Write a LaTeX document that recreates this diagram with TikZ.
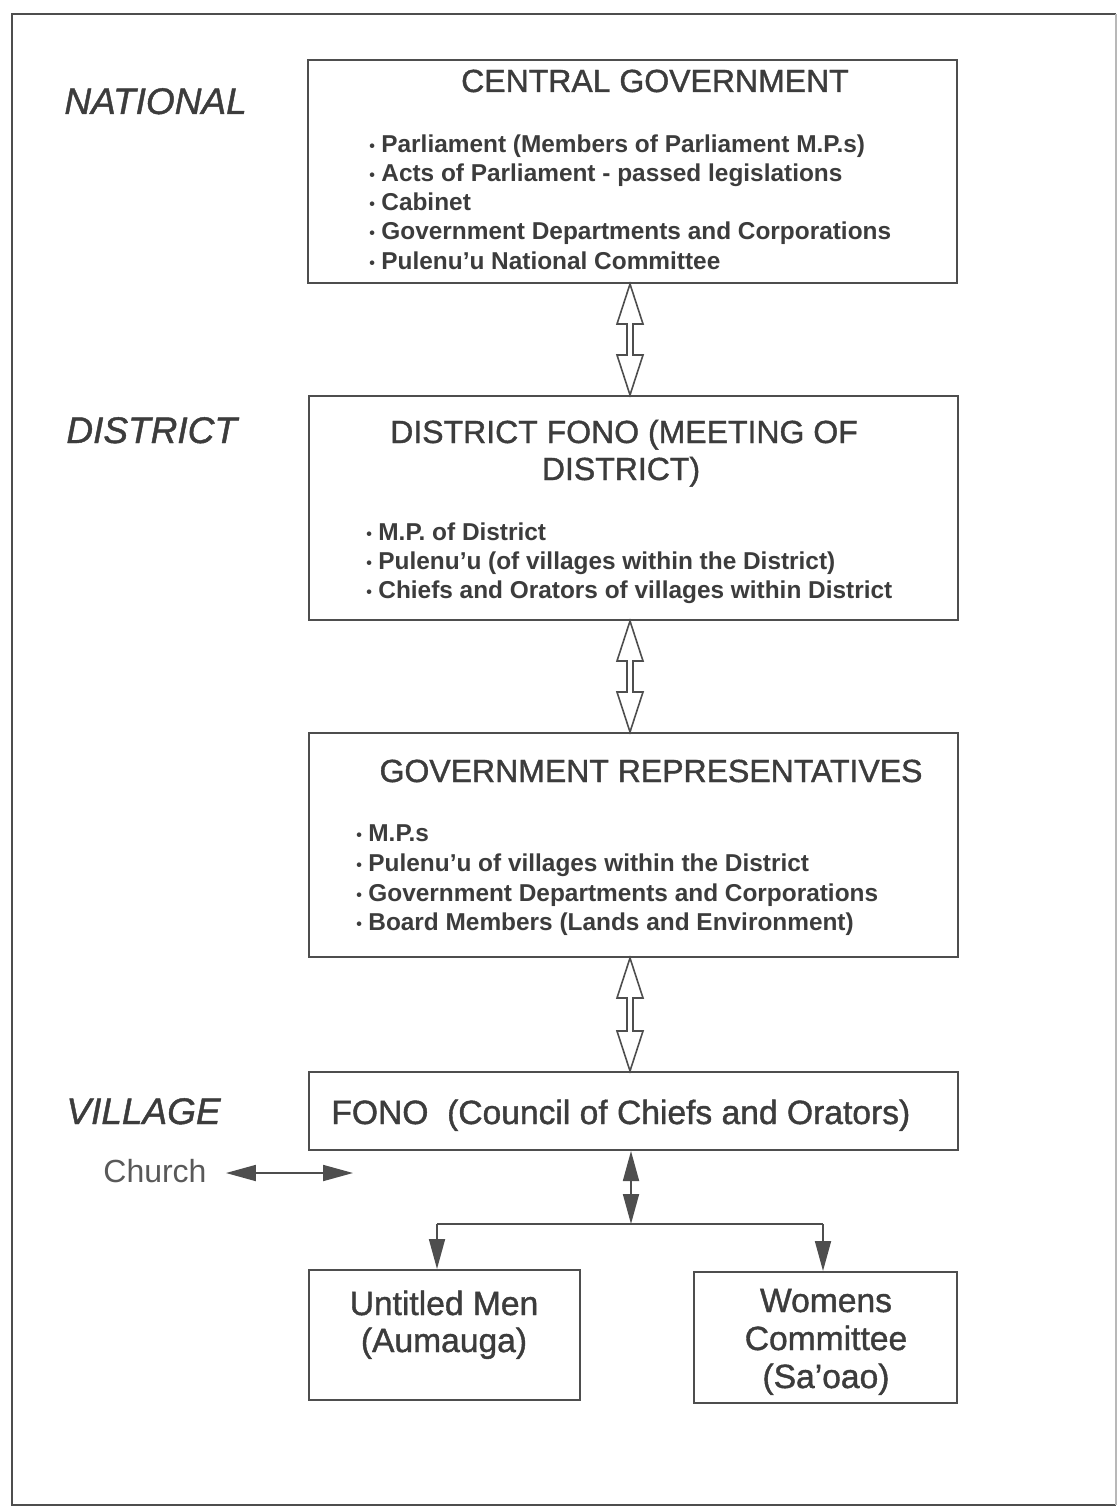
\documentclass[tikz,border=0pt]{standalone}
\usepackage{fontspec}
\setmainfont{Liberation Sans}
\newfontfamily\medsans[FakeBold=1.2,Ligatures=TeX]{Liberation Sans}
\usetikzlibrary{arrows.meta,calc}
\definecolor{ink}{HTML}{3C3C3C}
\definecolor{rule}{HTML}{4E4E4E}
\definecolor{faint}{HTML}{B8B8B8}
\newcommand\itembul{\makebox[6pt][l]{\fontsize{8}{8}\selectfont\raisebox{0.5pt}{•}}}
\tikzset{
  box/.style={draw=rule, line width=1pt, fill=white, inner sep=0pt},
  head/.style={text=ink, font=\medsans\fontsize{16}{19}\selectfont, anchor=base, inner sep=0pt},
  subhead/.style={text=ink, font=\medsans\fontsize{16.8}{20}\selectfont, anchor=base, inner sep=0pt},
  entry/.style={text=ink, font=\bfseries\fontsize{12.2}{14}\selectfont, anchor=base west, inner sep=0pt},
  level/.style={text=ink, font=\medsans\itshape\fontsize{18.5}{22}\selectfont, anchor=base west, inner sep=0pt},
  plain/.style={text=ink!85, font=\fontsize{16}{19}\selectfont, anchor=base west, inner sep=0pt},
  openarr/.style={draw=rule, line width=0.8pt, fill=white, line join=miter},
  solidarr/.style={draw=rule, line width=0.9pt},
  tip/.tip={Triangle[length=15pt,width=8pt]},
}
\begin{document}
\begin{tikzpicture}[x=0.5pt, y=-0.5pt]
\useasboundingbox (0,0) rectangle (1118,1508);
% outer frame
\draw[rule, line width=1.2pt] (1116,14) -- (12,14) -- (12,1505) -- (1116,1505);
\draw[faint, line width=0.8pt] (1116,14) -- (1116,1505);

% level labels
\node[level] (lnat) at (64,114) {NATIONAL};
\node[level] (ldis) at (66,443) {DISTRICT};
\node[level] (lvil) at (66,1124) {VILLAGE};

% boxes
\node[box, minimum width=324.5pt, minimum height=111.5pt] (cg) at (632.5,171.5) {};
\node[box, minimum width=324.5pt, minimum height=112pt] (df) at (633.5,508) {};
\node[box, minimum width=324.5pt, minimum height=112pt] (gr) at (633.5,845) {};
\node[box, minimum width=324.5pt, minimum height=39pt] (fono) at (633.5,1111) {};
\node[box, minimum width=135.5pt, minimum height=65pt] (um) at (444.5,1335) {};
\node[box, minimum width=131.5pt, minimum height=65.5pt] (wc) at (825.5,1337.5) {};

% central government
\node[head] (cgh) at (655,92) {CENTRAL GOVERNMENT};
\node[entry] (cg1) at (369,153) {\itembul Parliament (Members of Parliament M.P.s)};
\node[entry] (cg2) at (369,182) {\itembul Acts of Parliament - passed legislations};
\node[entry] (cg3) at (369,211) {\itembul Cabinet};
\node[entry] (cg4) at (369,240) {\itembul Government Departments and Corporations};
\node[entry] (cg5) at (369,270) {\itembul Pulenu'u National Committee};

% district fono
\node[head] (dfh1) at (624,443) {DISTRICT FONO (MEETING OF};
\node[head] (dfh2) at (621,480) {DISTRICT)};
\node[entry] (df1) at (366,540) {\itembul M.P. of District};
\node[entry] (df2) at (366,569) {\itembul Pulenu'u (of villages within the District)};
\node[entry] (df3) at (366,598) {\itembul Chiefs and Orators of villages within District};

% government representatives
\node[head] (grh) at (651,782) {GOVERNMENT REPRESENTATIVES};
\node[entry] (gr1) at (356,841) {\itembul M.P.s};
\node[entry] (gr2) at (356,871) {\itembul Pulenu'u of villages within the District};
\node[entry] (gr3) at (356,901) {\itembul Government Departments and Corporations};
\node[entry] (gr4) at (356,930) {\itembul Board Members (Lands and Environment)};

% village level
\node[subhead, anchor=base west] (fonot) at (331,1124) {FONO\ \ (Council of Chiefs and Orators)};
\node[subhead] (um1) at (444,1315) {Untitled Men};
\node[subhead] (um2) at (444,1352) {(Aumauga)};
\node[subhead] (wc1) at (826,1312) {Womens};
\node[subhead] (wc2) at (826,1350) {Committee};
\node[subhead] (wc3) at (826,1388) {(Sa'oao)};
\node[plain] (church) at (103,1182) {Church};

% open two-way arrows between the upper levels
\coordinate (ax) at (630,0);
\foreach \a/\b in {cg/df, df/gr, gr/fono}{
  \draw[openarr] let \p1=(\a.south -| ax), \p2=(\b.north -| ax) in
    (\x1,\y1) -- (\x1+6.5pt,\y1-20pt) -- (\x1+1.5pt,\y1-20pt) -- (\x1+1.5pt,\y2+20pt)
    -- (\x1+6.5pt,\y2+20pt) -- (\x2,\y2) -- (\x1-6.5pt,\y2+20pt) -- (\x1-1.5pt,\y2+20pt)
    -- (\x1-1.5pt,\y1-20pt) -- (\x1-6.5pt,\y1-20pt) -- cycle;
}

% church link
\coordinate (chend) at (353,1173);
\draw[solidarr, {tip}-{tip}] ([xshift=9.5pt,yshift=4.5pt]church.base east) -- (chend);

% fono branches
\coordinate (jc) at (631,1224);
\coordinate (ju) at (437,1224);
\coordinate (jw) at (823,1224);
\draw[solidarr, {tip}-{tip}] (fono.south -| jc) -- (jc);
\draw[solidarr] (ju) -- (jw);
\draw[solidarr, -{tip}] (ju) -- (um.north -| ju);
\draw[solidarr, -{tip}] (jw) -- (wc.north -| jw);
\end{tikzpicture}
\end{document}
